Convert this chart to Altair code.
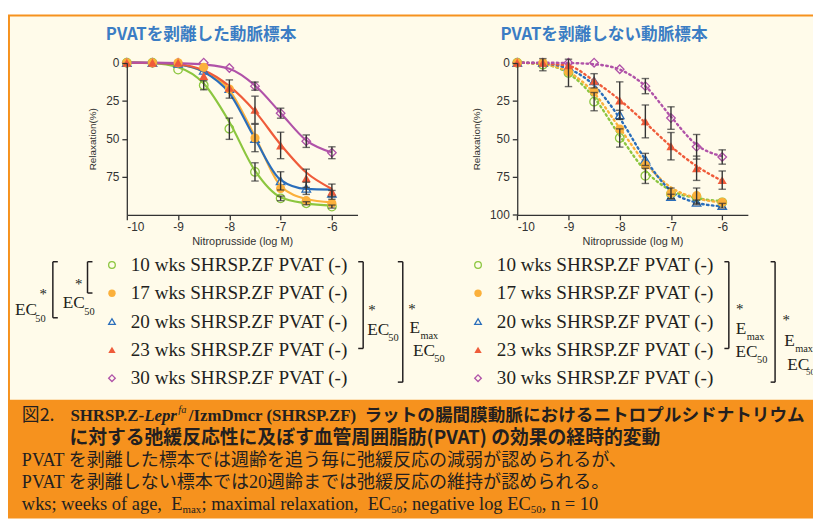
import altair as alt
import pandas as pd

# ---------------- data ----------------
GROUPS = ["10 wks", "17 wks", "20 wks", "23 wks", "30 wks"]
LABELS = ["10 wks SHRSP.ZF PVAT (-)", "17 wks SHRSP.ZF PVAT (-)", "20 wks SHRSP.ZF PVAT (-)",
          "23 wks SHRSP.ZF PVAT (-)", "30 wks SHRSP.ZF PVAT (-)"]
COLORS = ["#8cc63f", "#fbb03b", "#2a6ebb", "#ef5b3a", "#b052a8"]
SHAPES = ["circle", "circle", "triangle-up", "triangle-up", "diamond"]
FILLED = [False, True, False, True, False]
DOSE = [-10, -9.5, -9, -8.5, -8, -7.5, -7, -6.5, -6]

# PVAT removed (left) - mean, SEM, fitted curve
L10 = [0, 0, 4.5, 14.8, 43.4, 71.8, 89.2, 92.4, 94.6]
L17 = [0, 0, 0, 3, 17.3, 49.5, 82.7, 90.7, 92.4]
L20 = [0, 0, 0.5, 5, 17, 50, 77.7, 82.6, 86]
L23 = [0, 0, 0, 8.7, 16.5, 31, 54.4, 76, 84.8]
L30 = [0, 0, 0, 0, 3.5, 15.4, 33.2, 51.6, 59.2]
LE10 = [0, 0, 0, 3, 7, 6, 1.5, 1, 1]
LE17 = [0, 0, 0, 0, 6, 9, 0, 0, 0]
LE20 = [0, 0, 0, 0, 0, 0, 6, 4, 2]
LE23 = [0, 0, 0, 0, 0, 9, 8.7, 6, 5]
LE30 = [0, 0, 0, 0, 0, 2.7, 3.3, 4.1, 3.9]
LC10 = [0, 0.3, 3, 13.7, 39, 71, 88.5, 92.5, 94]
LC17 = [0, 0.2, 1.2, 6, 18, 48.5, 81, 89.6, 91.8]
LC20 = [0, 0.2, 1.2, 6, 20, 50, 77, 83, 83.5]
LC23 = [0, 0.2, 1, 5, 15.4, 32, 53.8, 72.2, 83]
LC30 = [0, 0, 0.3, 1.2, 4, 15, 33, 51, 59]

# PVAT intact (right)
R10 = [0, 1.3, 6.7, 25.6, 49.5, 74.4, 86.3, 88.5, 91.8]
R17 = [0, 0, 6, 19, 43.6, 67.5, 85.9, 87.4, 91.8]
R20 = [0, 0, 2.8, 12, 34.3, 63.6, 88, 91.8, 94]
R23 = [0, 0, 1.7, 11.9, 24.9, 38.6, 54.9, 69.4, 77.2]
R30 = [0, 0, 0, 0, 4.3, 15.4, 36.4, 55.3, 62]
RE10 = [0, 4, 9, 6, 6, 5, 0, 0, 0]
RE17 = [0, 0, 0, 0, 0, 0, 3.5, 5, 0]
RE20 = [0, 0, 0, 0, 3, 4, 1.5, 1.5, 1.5]
RE23 = [0, 0, 0, 4.7, 12.3, 10.8, 9, 8, 6]
RE30 = [0, 0, 0, 0, 0, 5, 7.4, 8.1, 4.7]
RC10 = [0, 1, 7, 23, 48, 71, 84, 89, 91]
RC17 = [0, 1, 6, 20, 43, 66, 82, 89, 92]
RC20 = [0, 0.5, 4, 15, 36.5, 63.6, 84.3, 92, 94.4]
RC23 = [0, 0.5, 2, 12, 24.5, 39.5, 55, 68, 77.7]
RC30 = [0, 0, 0.2, 1, 4.5, 15.4, 35.5, 54, 61.6]

X_TICKS = [-10, -9, -8, -7, -6]
Y_TICKS_L = [0, 25, 50, 75]
Y_TICKS_R = [0, 25, 50, 75, 100]

# ---------------- styles ----------------
W, H = 813, 513
ORANGE = "#f6921e"
CREAM = "#fffbea"
INK = "#231f20"
AX = "#333333"
TITLE_BLUE = "#3b7dc4"
SERIF = "Liberation Serif"
SANS = "Liberation Sans"
CJK = "Noto Sans CJK JP"
MIX = "Liberation Serif, Noto Sans CJK JP"

ONE = pd.DataFrame({"k": [0]})


def build(means, errs, curves):
    rows = []
    for g, f, m, e, c in zip(GROUPS, FILLED, means, errs, curves):
        for x, mv, ev, cv in zip(DOSE, m, e, c):
            rows.append(dict(group=g, filled=f, x=x, y=mv, err=ev, lo=mv - ev, hi=mv + ev, curve=cv))
    return pd.DataFrame(rows)


left_df = build([L10, L17, L20, L23, L30], [LE10, LE17, LE20, LE23, LE30], [LC10, LC17, LC20, LC23, LC30])
right_df = build([R10, R17, R20, R23, R30], [RE10, RE17, RE20, RE23, RE30], [RC10, RC17, RC20, RC23, RC30])

cscale = alt.Scale(domain=GROUPS, range=COLORS)
sscale = alt.Scale(domain=GROUPS, range=SHAPES)


def P(v):
    return v - 8


def T(s, x, y, size, font=SERIF, weight="normal", style="normal", color=INK, align="left", baseline="middle"):
    return alt.Chart(ONE).mark_text(text=s, font=font, fontSize=size, fontWeight=weight, fontStyle=style,
                                    color=color, align=align, baseline=baseline).encode(
        x=alt.value(P(x)), y=alt.value(P(y)))


def R(x1, y1, x2, y2, color=INK, width=1.5):
    return alt.Chart(ONE).mark_rule(color=color, strokeWidth=width).encode(
        x=alt.value(P(x1)), y=alt.value(P(y1)), x2=alt.value(P(x2)), y2=alt.value(P(y2)))


def RECT(x1, y1, x2, y2, color):
    return alt.Chart(ONE).mark_rect(color=color).encode(
        x=alt.value(x1), y=alt.value(y1), x2=alt.value(x2), y2=alt.value(y2))


def bracket(x, y1, y2, dx):
    return [R(x, y1, x, y2), R(x, y1, x + dx, y1), R(x, y2, x + dx, y2)]


def panel(df, xr, yr, yticks, dash):
    xs = alt.Scale(domain=[-10, -5.5], range=xr, nice=False, zero=False)
    ys = alt.Scale(domain=[0, 100], range=yr, nice=False, zero=False)
    xaxis = alt.Axis(orient="bottom", offset=yr[1] - H, values=X_TICKS, labelExpr="'' + datum.value",
                     title="Nitroprusside (log M)", grid=False, domainColor=AX, domainWidth=1.3,
                     tickColor=AX, tickWidth=1.3, tickSize=5, labelFont=SANS, labelFontSize=12,
                     labelColor=AX, labelPadding=2, titleFont=SANS, titleFontSize=11,
                     titleFontWeight="normal", titleColor=AX, titlePadding=3, zindex=1)
    yaxis = alt.Axis(orient="left", offset=-xr[0], values=yticks, title="Relaxation(%)", grid=False,
                     domainColor=AX, domainWidth=1.3, tickColor=AX, tickWidth=1.3, tickSize=5,
                     labelFont=SANS, labelFontSize=12, labelColor=AX, labelPadding=3,
                     titleFont=SANS, titleFontSize=10, titleFontWeight="normal", titleColor=AX,
                     titlePadding=8, zindex=1)
    X = alt.X("x:Q", scale=xs, axis=xaxis)
    color = alt.Color("group:N", scale=cscale, legend=None)
    shape = alt.Shape("group:N", scale=sscale, legend=None)
    base = alt.Chart(df)
    line_kw = dict(interpolate="monotone", strokeWidth=2.2)
    if dash:
        line_kw.update(strokeDash=[1.6, 3.4], strokeCap="round", strokeWidth=2.4)
    curve = base.mark_line(**line_kw).encode(
        x=X, y=alt.Y("curve:Q", scale=ys, axis=yaxis), color=color, detail="group:N")
    pts_open = base.transform_filter("!datum.filled").mark_point(filled=False, size=75, strokeWidth=1.3, opacity=1).encode(
        x=X, y=alt.Y("y:Q", scale=ys, axis=yaxis), color=color, shape=shape)
    pts_fill = base.transform_filter("datum.filled").mark_point(filled=True, size=85, opacity=1).encode(
        x=X, y=alt.Y("y:Q", scale=ys, axis=yaxis), color=color, shape=shape)
    eb = base.transform_filter("datum.err > 0")
    bars = eb.mark_rule(color="#333333", strokeWidth=1.4).encode(
        x=X, y=alt.Y("lo:Q", scale=ys, axis=yaxis), y2="hi:Q")
    cap_lo = eb.mark_tick(color="#333333", orient="horizontal", size=7.5, thickness=1.4).encode(
        x=X, y=alt.Y("lo:Q", scale=ys, axis=yaxis))
    cap_hi = eb.mark_tick(color="#333333", orient="horizontal", size=7.5, thickness=1.4).encode(
        x=X, y=alt.Y("hi:Q", scale=ys, axis=yaxis))
    return alt.layer(curve, pts_open, pts_fill, bars, cap_lo, cap_hi)


def legend(sym_x, text_x):
    ldf = pd.DataFrame({"group": GROUPS, "label": LABELS, "filled": FILLED})
    ys = alt.Scale(domain=GROUPS, range=[P(265), P(379.3)], padding=0)
    Y = alt.Y("group:N", scale=ys, axis=None)
    color = alt.Color("group:N", scale=cscale, legend=None)
    shape = alt.Shape("group:N", scale=sscale, legend=None)
    base = alt.Chart(ldf)
    so = base.transform_filter("!datum.filled").mark_point(filled=False, size=45, strokeWidth=1.3, opacity=1).encode(
        x=alt.value(P(sym_x)), y=Y, color=color, shape=shape)
    sf = base.transform_filter("datum.filled").mark_point(filled=True, size=55, opacity=1).encode(
        x=alt.value(P(sym_x)), y=Y, color=color, shape=shape)
    tx = base.mark_text(align="left", baseline="middle", font=SERIF, fontSize=19.3, color=INK).encode(
        x=alt.value(P(text_x)), y=Y, text="label:N")
    return alt.layer(so, sf, tx)


layers = []
# frame & caption box
layers.append(RECT(0, 4, W, H, ORANGE))
layers.append(RECT(2, 6, W, 393, CREAM))

# panel titles
layers.append(T("PVATを剥離した動脈標本", 203, 33, 16.8, font=CJK, weight="bold", color=TITLE_BLUE, align="center"))
layers.append(T("PVATを剥離しない動脈標本", 610, 33, 16.8, font=CJK, weight="bold", color=TITLE_BLUE, align="center"))

layers.append(panel(left_df, [P(128), P(361)], [P(60.7), P(214.3)], Y_TICKS_L, False))
layers.append(panel(right_df, [P(522.3), P(755.2)], [P(60.7), P(214.3)], Y_TICKS_R, True))

layers.append(legend(113, 132))
layers.append(legend(482.7, 501.7))

# brackets and annotations
for b in (bracket(53.3, 261.7, 318.3, 5), bracket(88.3, 261.7, 293.3, 5),
          bracket(366.7, 261.7, 349.3, -5), bracket(406.7, 261.7, 383.3, -5),
          bracket(736, 261.7, 349.3, -4.5), bracket(782.7, 261.7, 383.3, -4.5)):
    layers.extend(b)

AST = 15


def star(x, yc):
    return T("*", x, yc + 7.5, AST, align="center", baseline="alphabetic")


layers += [star(43.5, 291.5), T("EC", 15, 310.5, 17.5), T("50", 35.5, 320, 10.5)]
layers += [star(79.5, 281.5), T("EC", 63.3, 303.5, 17.5), T("50", 85, 312, 10.5)]
layers += [star(375.5, 308), T("EC", 370.7, 331, 17.5), T("50", 392, 339, 10.5)]
layers += [star(416, 307), T("E", 413.5, 329, 17.5), T("max", 424.5, 337, 10.5),
           T("EC", 417, 352, 17.5), T("50", 438.5, 360, 10.5)]
layers += [star(747, 306.7), T("E", 743, 330, 17.5), T("max", 754, 338, 10.5),
           T("EC", 742.7, 353, 17.5), T("50", 764.5, 361, 10.5)]
layers += [star(794, 318), T("E", 792, 342, 17.5), T("max", 803, 350, 10.5),
           T("EC", 795, 366, 17.5), T("50", 814, 373, 9)]

# caption
layers += [
    T("図2.", 22, 418, 18, font=CJK),
    T("SHRSP.Z-", 71, 418, 17, weight="bold"),
    T("Lepr", 145.5, 418, 17, weight="bold", style="italic"),
    T("fa", 180, 411, 10.5, style="italic"),
    T("/IzmDmcr (SHRSP.ZF)", 190.5, 418, 17, weight="bold"),
    T("ラットの腸間膜動脈におけるニトロプルシドナトリウム", 368, 418, 17.8, font=CJK, weight="bold"),
    T("に対する弛緩反応性に及ぼす血管周囲脂肪(PVAT) の効果の経時的変動", 70, 440, 19, font=CJK, weight="bold"),
    T("PVAT を剥離した標本では週齢を追う毎に弛緩反応の減弱が認められるが、", 22, 463, 18.2, font=MIX),
    T("PVAT を剥離しない標本では20週齢までは弛緩反応の維持が認められる。", 22, 485, 18.2, font=MIX),
    T("wks; weeks of age,", 22, 506, 18.6),
    T("E", 172.8, 506, 18.6), T("max", 184.2, 512, 11),
    T("; maximal relaxation,", 203.4, 506, 18.6),
    T("EC", 371.2, 506, 18.6), T("50", 395, 512, 11),
    T("; negative log EC", 406.3, 506, 18.6), T("50", 536, 512, 11),
    T(", n = 10", 547.1, 506, 18.6),
]

chart = alt.layer(*layers).resolve_scale(x="independent", y="independent").properties(
    width=W, height=H, autosize=alt.AutoSizeParams(type="none"), padding=0, background="#ffffff"
).configure_view(stroke=None)

chart.save("out.html", embed_options={"renderer": "svg", "actions": False})
